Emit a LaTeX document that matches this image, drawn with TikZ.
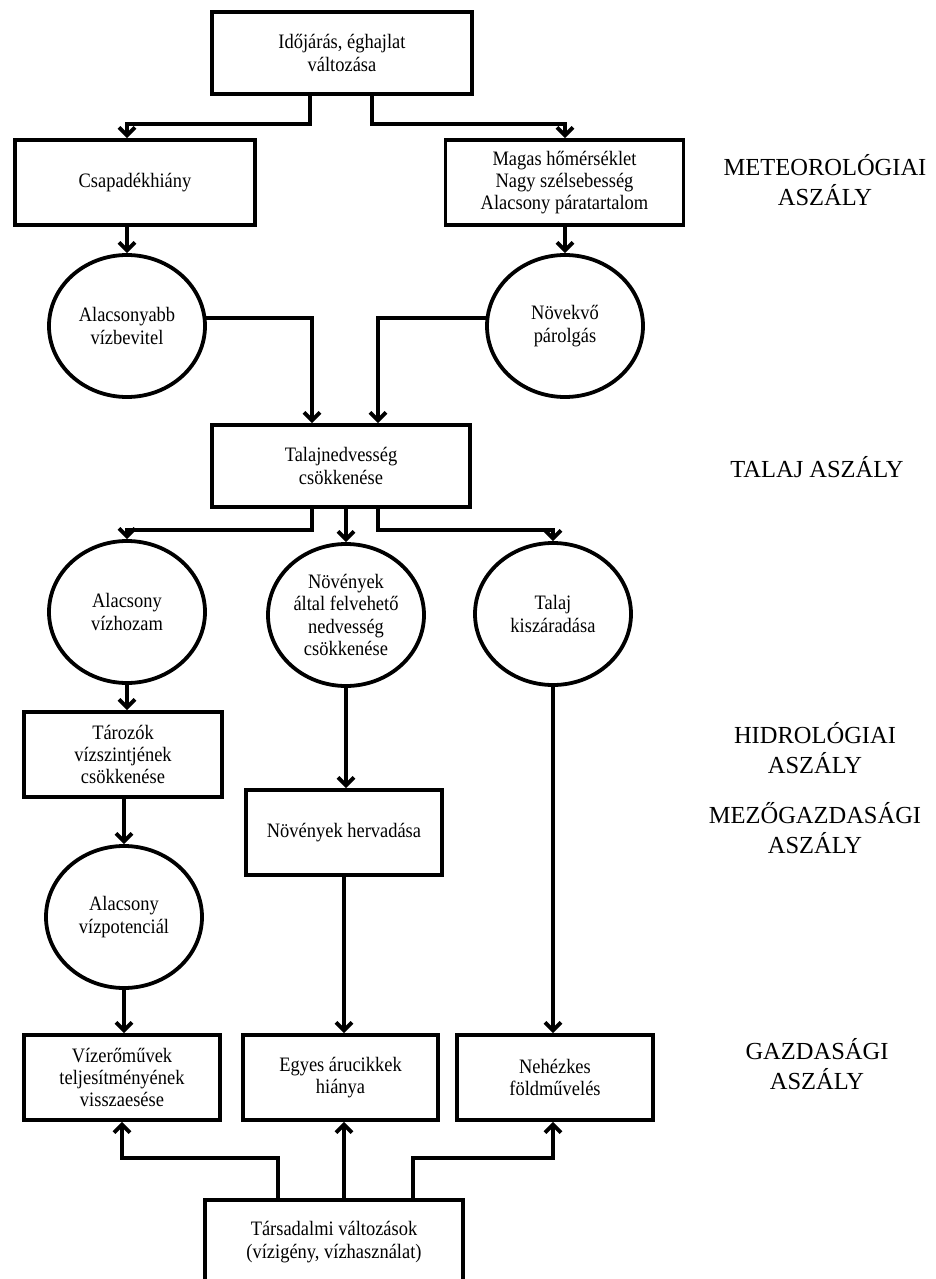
\documentclass[tikz,border=0pt]{standalone}
\usepackage{fontspec}
\setmainfont{Liberation Serif}
\newfontfamily\boxfont[FakeStretch=0.9]{Liberation Serif}
\usetikzlibrary{arrows.meta,shapes.geometric}
\tikzset{
  lw/.style={line width=3.8pt},
  boxnode/.style={draw, lw, rectangle, align=center, inner sep=2pt, minimum height=85pt,
     font=\boxfont\fontsize{20.5}{22.3}\selectfont},
  oval/.style={draw, lw, ellipse, align=center, inner sep=0pt, minimum width=156pt, minimum height=142pt,
     font=\boxfont\fontsize{20.5}{22.3}\selectfont},
  lbl/.style={align=center, inner sep=0pt, font=\fontsize{24.5}{30}\selectfont},
  arr/.style={lw, -{Straight Barb[length=8pt,width=16pt]}},
  ln/.style={lw}
}
\begin{document}
\begin{tikzpicture}[x=1pt,y=-1pt]
\useasboundingbox (0,0) rectangle (935,1279);
% nodes
\node[boxnode, minimum width=260pt, minimum height=82pt] (top) at (342,53) {Időjárás, éghajlat\\változása};
\node[boxnode, minimum width=240pt] (csap) at (135,182.5) {Csapadékhiány};
\node[boxnode, minimum width=238pt] (magas) at (564.5,182.5) {Magas hőmérséklet\\Nagy szélsebesség\\Alacsony páratartalom};
\node[oval] (c1) at (127,326) {Alacsonyabb\\vízbevitel};
\node[oval] (c2) at (565,326) {Növekvő\\párolgás};
\node[boxnode, minimum width=258pt, minimum height=82pt] (talaj) at (341,466) {Talajnedvesség\\csökkenése};
\node[oval] (c3) at (127,612) {Alacsony\\vízhozam};
\node[oval] (c4) at (346,615) {Növények\\által felvehető\\nedvesség\\csökkenése};
\node[oval] (c5) at (553,614) {Talaj\\kiszáradása};
\node[boxnode, minimum width=198pt] (taroz) at (123,754.5) {Tározók\\vízszintjének\\csökkenése};
\node[boxnode, minimum width=196pt] (herv) at (344,832.5) {Növények hervadása};
\node[oval] (c6) at (124,917) {Alacsony\\vízpotenciál};
\node[boxnode, minimum width=196pt] (viz) at (122,1077.5) {Vízerőművek\\teljesítményének\\visszaesése};
\node[boxnode, minimum width=195pt] (egyes) at (340.5,1077.5) {Egyes árucikkek\\hiánya};
\node[boxnode, minimum width=196pt] (neh) at (555,1077.5) {Nehézkes\\földművelés};
\node[boxnode, minimum width=258pt, minimum height=84pt] (tars) at (334,1242) {Társadalmi változások\\(vízigény, vízhasználat)};
% labels
\node[lbl] (l1) at (825,180) {METEOROLÓGIAI\\ASZÁLY};
\node[lbl] (l2) at (817,467) {TALAJ ASZÁLY};
\node[lbl] (l3) at (815,748) {HIDROLÓGIAI\\ASZÁLY};
\node[lbl] (l4) at (815,828) {MEZŐGAZDASÁGI\\ASZÁLY};
\node[lbl] (l5) at (817,1064) {GAZDASÁGI\\ASZÁLY};
% connectors
\draw[arr] ([xshift=-32pt]top.south) -- ++(0,28) -| (csap.north -| c1);
\draw[arr] ([xshift=30pt]top.south) -- ++(0,28) -| (magas.north -| c2);
\draw[arr] (csap.south -| c1) -- (c1.north);
\draw[arr] (magas.south -| c2) -- (c2.north);
\draw[arr] (c1.6) -| ([xshift=-29pt]talaj.north);
\draw[arr] (c2.174) -| ([xshift=37pt]talaj.north);
\draw[arr] ([xshift=-29pt]talaj.south) -- ++(0,21) -| (c3.north);
\draw[arr] (talaj.south -| c4.north) -- (c4.north);
\draw[arr] ([xshift=37pt]talaj.south) -- ++(0,21) -| (c5.north);
\draw[arr] (c3.south) -- (taroz.north -| c3.south);
\draw[arr] (c4.south) -- (herv.north -| c4.south);
\draw[arr] (c5.south) -- (neh.north -| c5.south);
\draw[arr] (taroz.south -| c6) -- (c6.north);
\draw[arr] (c6.south) -- (viz.north -| c6.south);
\draw[arr] (herv.south) -- (egyes.north -| herv.south);
\draw[arr] ([xshift=-56pt]tars.north) -- ++(0,-40) -| (viz.south);
\draw[arr] (tars.north -| herv.south) -- (egyes.south -| herv.south);
\draw[arr] ([xshift=79pt]tars.north) -- ++(0,-40) -| (neh.south -| c5.south);
\end{tikzpicture}
\end{document}
